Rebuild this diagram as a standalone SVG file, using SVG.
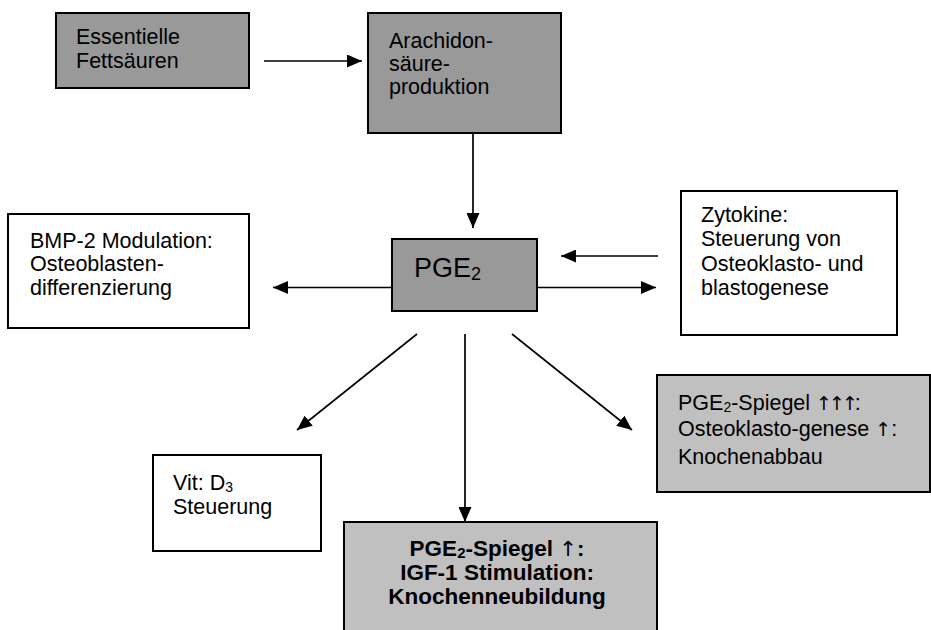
<svg xmlns="http://www.w3.org/2000/svg" width="931" height="630" viewBox="0 0 931 630">
<style>
.box{stroke:#000;stroke-width:2}
.dark{fill:#999999}
.light{fill:#c0c0c0}
.white{fill:#ffffff}
text{font-family:"Liberation Sans",Arial,sans-serif;font-size:21.5px;fill:#000}
.b{font-weight:bold;font-size:22.5px;text-anchor:middle}
.ar{font-family:"DejaVu Sans",sans-serif;font-weight:normal}
.con line{stroke:#000;stroke-width:1.7;marker-end:url(#ah)}
</style>
<defs>
<marker id="ah" viewBox="0 0 15 13" refX="15" refY="6.5" markerUnits="userSpaceOnUse" markerWidth="15" markerHeight="13" orient="auto">
<path d="M0,0 L15,6.5 L0,13 Z" fill="#000"/>
</marker>
</defs>
<rect width="931" height="630" fill="#fff"/>
<g id="n-fett">
<rect class="box dark" x="56" y="13" width="193" height="75"/>
<text x="76" y="44">Essentielle</text>
<text x="76" y="68">Fettsäuren</text>
</g>
<g id="n-arach">
<rect class="box dark" x="368" y="13" width="193" height="120"/>
<text x="389" y="48">Arachidon-</text>
<text x="389" y="71">säure-</text>
<text x="389" y="94">produktion</text>
</g>
<g id="n-pge2">
<rect class="box dark" x="392" y="239" width="145" height="72"/>
<text x="414" y="277" style="font-size:27px">PGE<tspan font-size="18" dy="3">2</tspan></text>
</g>
<g id="n-bmp">
<rect class="box white" x="8" y="214" width="241" height="114"/>
<text x="30" y="248">BMP-2 Modulation:</text>
<text x="30" y="271">Osteoblasten-</text>
<text x="30" y="295">differenzierung</text>
</g>
<g id="n-zyto">
<rect class="box white" x="681" y="191" width="216" height="144"/>
<text x="701" y="221.5">Zytokine:</text>
<text x="701" y="245.5">Steuerung von</text>
<text x="701" y="270.5">Osteoklasto- und</text>
<text x="701" y="295">blastogenese</text>
</g>
<g id="n-vit">
<rect class="box white" x="153" y="455" width="168" height="96"/>
<text x="173" y="490">Vit: D<tspan font-size="14" dy="2">3</tspan></text>
<text x="173" y="514">Steuerung</text>
</g>
<g id="n-abbau">
<rect class="box light" x="657" y="375" width="273" height="117"/>
<text x="678" y="410">PGE<tspan font-size="14" dy="2">2</tspan><tspan dy="-2">-Spiegel </tspan><tspan class="ar" font-size="19" letter-spacing="-3">↑↑↑</tspan>:</text>
<text x="678" y="436">Osteoklasto-genese <tspan class="ar" font-size="19">↑</tspan>:</text>
<text x="678" y="464">Knochenabbau</text>
</g>
<g id="n-neu">
<rect class="box light" x="344" y="522" width="313" height="120"/>
<text class="b" x="497" y="556">PGE<tspan font-size="15" dy="2">2</tspan><tspan dy="-2">-Spiegel </tspan><tspan class="ar" font-size="21">↑</tspan>:</text>
<text class="b" x="497" y="580">IGF-1 Stimulation:</text>
<text class="b" x="497" y="604">Knochenneubildung</text>
</g>
<g id="connectors" class="con">
<line x1="264" y1="61" x2="362" y2="61"/>
<line x1="473" y1="133" x2="473" y2="228"/>
<line x1="392" y1="287.5" x2="273" y2="287.5"/>
<line x1="658" y1="256" x2="561" y2="256"/>
<line x1="537" y1="287.5" x2="656" y2="287.5"/>
<line x1="417" y1="334" x2="297" y2="430"/>
<line x1="465" y1="334" x2="465" y2="522"/>
<line x1="512" y1="334" x2="632" y2="430"/>
</g>
</svg>
